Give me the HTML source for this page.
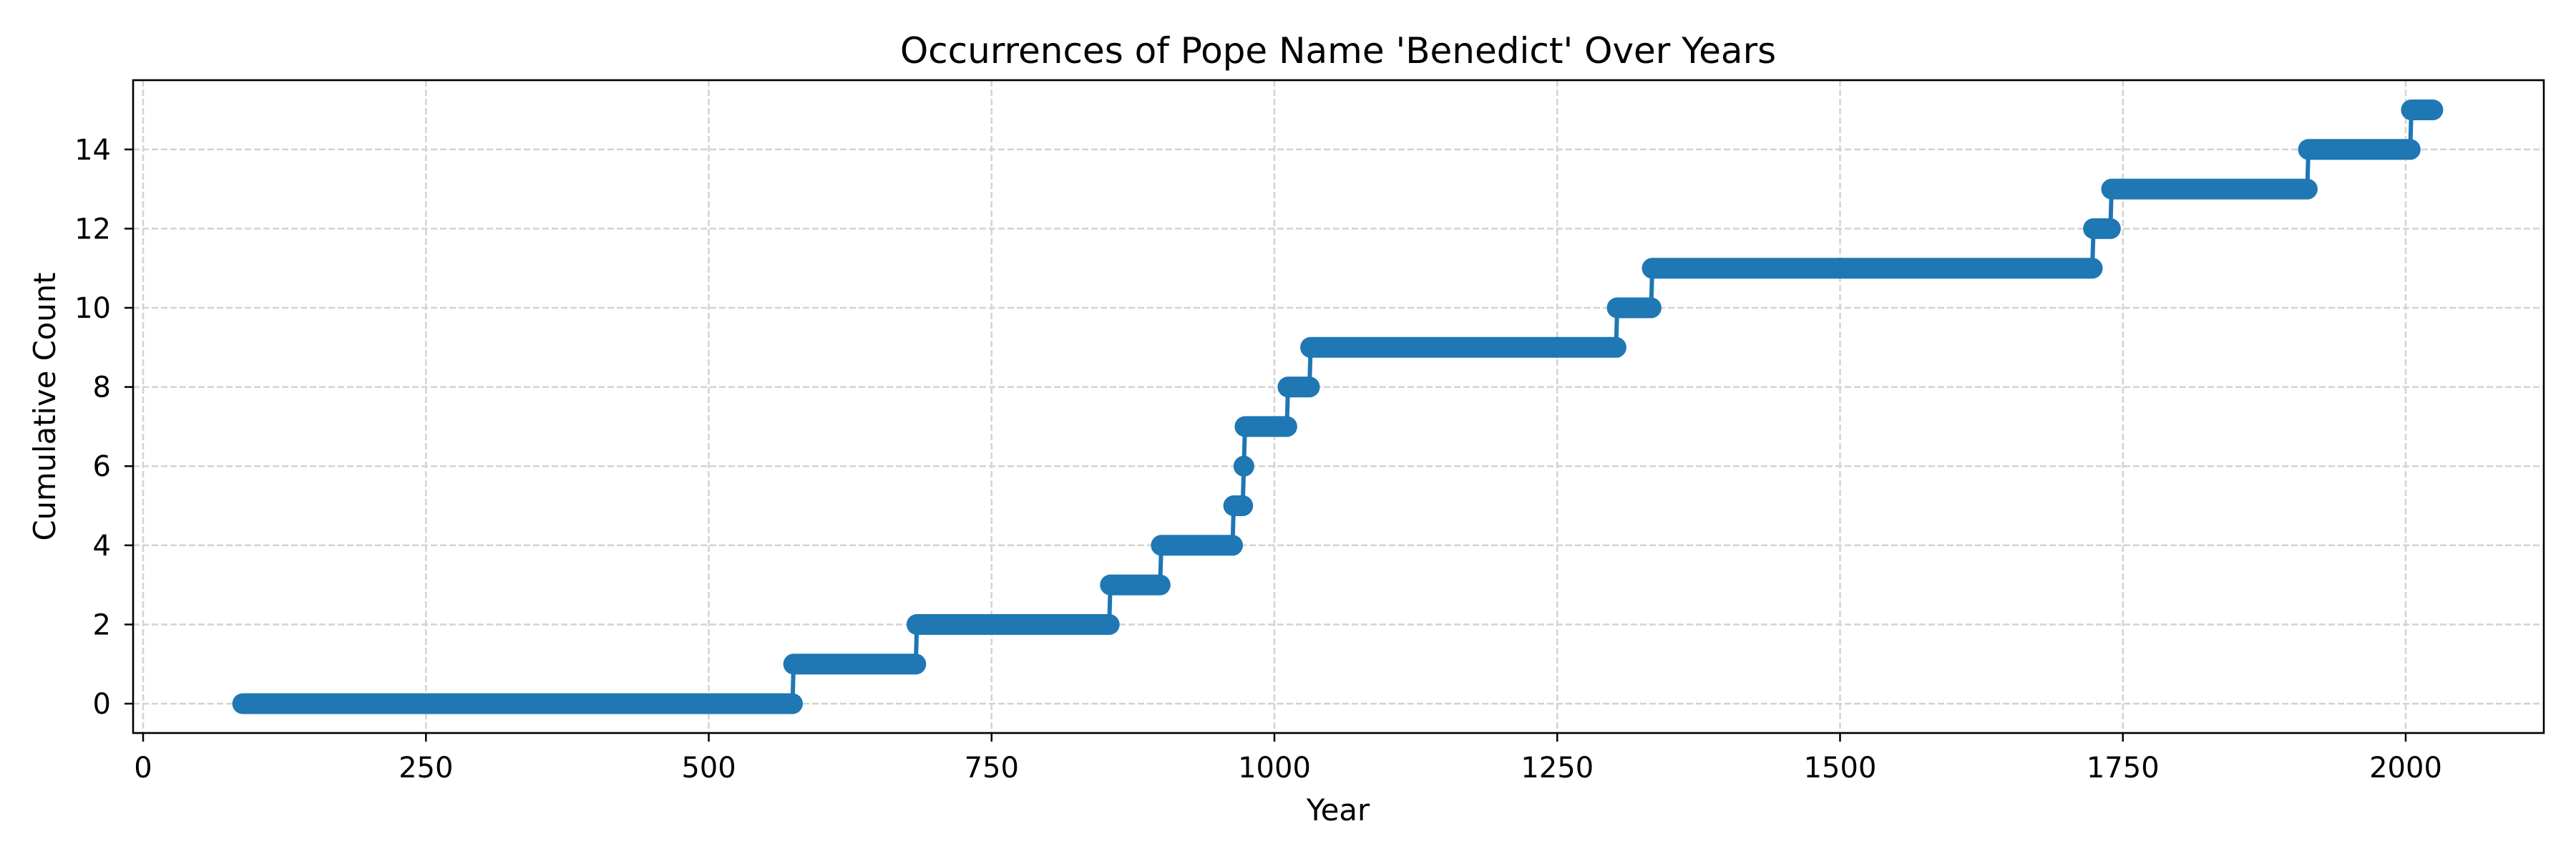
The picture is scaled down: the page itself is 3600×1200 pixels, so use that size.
<!DOCTYPE html>
<html><head><meta charset="utf-8"><style>
html,body{margin:0;padding:0;background:#fff;}
svg{display:block;font-family:"DejaVu Sans","Liberation Sans",sans-serif;}
</style></head><body>
<svg id="chart" width="3600" height="1200" viewBox="0 0 3600 1200" xmlns="http://www.w3.org/2000/svg">
<rect x="0" y="0" width="3600" height="1200" fill="#fff"/>
<text x="1870" y="88" font-size="50" text-anchor="middle">Occurrences of Pope Name 'Benedict' Over Years</text>
<g id="grid"></g>
<g id="series"></g>
<rect x="186" y="112" width="3369" height="912" fill="none" stroke="#000" stroke-width="2.6"/>
<g id="xticks"></g>
<g id="yticks"></g>
<text x="1870" y="1146" font-size="41.7" text-anchor="middle">Year</text>
<text transform="translate(77,568) rotate(-90)" font-size="41.7" text-anchor="middle">Cumulative Count</text>
</svg>
<script>
const stepYears = [88, 575, 684, 855, 900, 964, 973, 974, 1012, 1032, 1303, 1334, 1724, 1740, 1914, 2005];
const stepCounts = [0, 1, 2, 3, 4, 5, 6, 7, 8, 9, 10, 11, 12, 13, 14, 15];
const endYear = 2024;
const xTickValues = [0, 250, 500, 750, 1000, 1250, 1500, 1750, 2000];
const yTickValues = [0, 2, 4, 6, 8, 10, 12, 14];

const NS = "http://www.w3.org/2000/svg";
const X0 = 200, XS = 1.581;
const Y0 = 983, YS = 55.3;
function xScale(v){ return X0 + v * XS; }
function yScale(v){ return Y0 - v * YS; }
function mk(tag, attrs, parent){
  const e = document.createElementNS(NS, tag);
  for (const k in attrs) e.setAttribute(k, attrs[k]);
  parent.appendChild(e);
  return e;
}
const grid = document.getElementById('grid');
const xt = document.getElementById('xticks');
const yt = document.getElementById('yticks');
const series = document.getElementById('series');

xTickValues.forEach(v => {
  const x = xScale(v);
  const g = mk('line', {x1:x, x2:x, y1:112, y2:1024, stroke:'#d3d3d3', 'stroke-width':2.5, 'stroke-dasharray':'9,4'}, grid);
  
  
  const t = mk('line', {x1:x, x2:x, y1:1024, y2:1036, stroke:'#000', 'stroke-width':2.5}, xt);
  
  
  const l = mk('text', {x:x, y:1086, 'font-size':40, 'text-anchor':'middle'}, xt);
  l.textContent = v;
  
  
});
yTickValues.forEach(v => {
  const y = yScale(v);
  const g = mk('line', {x1:186, x2:3555, y1:y, y2:y, stroke:'#d3d3d3', 'stroke-width':2.5, 'stroke-dasharray':'9,4'}, grid);
  
  
  const t = mk('line', {x1:174, x2:186, y1:y, y2:y, stroke:'#000', 'stroke-width':2.5}, yt);
  
  
  const l = mk('text', {x:155, y:y+14, 'font-size':40, 'text-anchor':'end'}, yt);
  l.textContent = v;
  
  
});

for (let i = 0; i < stepYears.length - 1; i++) {
  const xa = xScale(stepYears[i+1] - 1), xb = xScale(stepYears[i+1]);
  const c = mk('line', {x1:xa, y1:yScale(stepCounts[i]), x2:xb, y2:yScale(stepCounts[i+1]), stroke:'#1f77b4', 'stroke-width':6}, series);
  
  
}
for (let i = 0; i < stepYears.length; i++) {
  const s = stepYears[i];
  const e = (i < stepYears.length - 1) ? stepYears[i+1] - 1 : endYear;
  const y = yScale(stepCounts[i]);
  const p = mk('line', {x1:xScale(s), x2:xScale(e), y1:y, y2:y, stroke:'#1f77b4', 'stroke-width':29, 'stroke-linecap':'round'}, series);
  
  
}
</script>
</body></html>
